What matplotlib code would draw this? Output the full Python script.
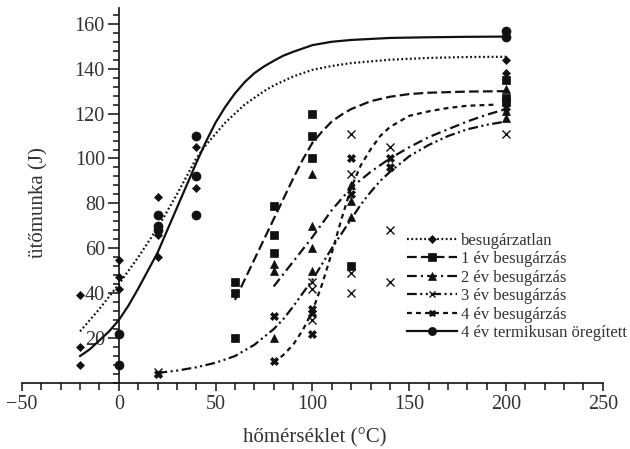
import matplotlib
matplotlib.use('Agg')
import matplotlib.pyplot as plt
from matplotlib.lines import Line2D
from matplotlib.ticker import MultipleLocator

plt.rcParams['font.family'] = ['Liberation Serif', 'DejaVu Serif']
plt.rcParams['lines.scale_dashes'] = False

# measured points (temperature, impact energy)
ctrl_T = [-20, -20, -20, 0, 0, 0, 20, 20, 20, 20, 40, 40, 200, 200]
ctrl_E = [39, 16, 8, 55, 47, 42, 83, 68, 66, 56, 105, 87, 144, 138]

yr1_T = [60, 60, 60, 80, 80, 80, 100, 100, 100, 120, 200, 200, 200]
yr1_E = [45, 40, 20, 79, 66, 58, 120, 110, 100, 52, 135, 127, 125]

yr2_T = [80, 80, 80, 100, 100, 100, 100, 120, 120, 120, 200, 200, 200]
yr2_E = [53, 50, 20, 93, 70, 60, 50, 88, 81, 74, 131, 121, 118]

yr3_T = [20, 100, 100, 100, 120, 120, 120, 120, 140, 140, 140, 200]
yr3_E = [5, 45, 42, 28, 111, 93, 49, 40, 105, 68, 45, 111]

yr4_T = [20, 80, 80, 100, 100, 100, 120, 120, 140, 140, 200, 200]
yr4_E = [4, 30, 10, 33, 31, 22, 100, 84, 100, 96, 126, 123]

aged_T = [0, 0, 20, 20, 20, 40, 40, 40, 200, 200]
aged_E = [22, 8, 75, 70, 68, 110, 92, 75, 157, 154]

# fitted transition curves
ctrl_fit_T = [-20, -15, -10, -5, 0, 5, 10, 15, 20, 25, 30, 35, 40, 45, 50, 55, 60, 65, 70,
              75, 80, 85, 90, 95, 100, 110, 120, 140, 160, 180, 200]
ctrl_fit_E = [23, 28, 33, 38.5, 44, 50, 56, 62.5, 69, 76.5, 84, 92, 100, 106, 111, 116, 120, 124, 127,
              130, 132.5, 134.5, 136.5, 138, 139.5, 141.2, 142.5, 144, 144.8, 145.2, 145.3]

aged_fit_T = [-20, -15, -10, -5, 0, 5, 10, 15, 20, 25, 30, 35, 40, 45, 50, 55, 60, 65, 70,
              75, 80, 85, 90, 95, 100, 110, 120, 140, 160, 180, 200]
aged_fit_E = [12, 15, 19, 23, 28, 34.5, 42, 50, 58, 68, 78, 88, 98, 107.5, 116, 123, 129, 134, 138,
              141, 143.5, 145.8, 147.5, 149, 150.5, 152, 152.8, 153.7, 154, 154.2, 154.3]

yr1_fit_T = [60, 65, 70, 75, 80, 85, 90, 95, 100, 105, 110, 115, 120, 130, 140, 150, 160, 180, 200]
yr1_fit_E = [37, 46, 55, 64, 73, 82, 91, 99.5, 107, 112, 116.5, 119.5, 122, 125.5, 127.5, 128.7,
             129.3, 129.8, 130]

yr2_fit_T = [80, 90, 100, 110, 120, 130, 140, 150, 160, 170, 180, 190, 200]
yr2_fit_E = [43, 54, 65, 77, 87, 94, 100, 105, 109.5, 113, 116.5, 119.5, 122]

yr3_fit_T = [20, 30, 40, 50, 60, 70, 80, 85, 90, 95, 100, 105, 110, 115, 120, 125, 130, 135, 140,
             150, 160, 170, 180, 190, 200]
yr3_fit_E = [4.5, 5.5, 7, 9, 12, 17, 24, 28.5, 34, 40, 46, 53, 60, 66.5, 73, 79.5, 85, 90, 94,
             101, 106, 110, 113, 115, 116.5]

yr4_fit_T = [80, 85, 90, 95, 100, 105, 110, 115, 120, 125, 130, 135, 140, 150, 160, 170, 180, 195]
yr4_fit_E = [9, 12.5, 17, 23.5, 32, 44, 58, 73, 87, 97, 104, 110, 114, 119, 121, 122.5, 123.5, 124]

labels = ['besugárzatlan', '1 év besugárzás', '2 év besugárzás',
          '3 év besugárzás', '4 év besugárzás', '4 év termikusan öregített']

k = '#111111'
txt = '#333333'

series = [
    (ctrl_T, ctrl_E, ctrl_fit_T, ctrl_fit_E, 'D', 4.5, (0, (1.3, 1.8)), 1.6),
    (yr1_T, yr1_E, yr1_fit_T, yr1_fit_E, 's', 6, (0, (7, 3)), 1.6),
    (yr2_T, yr2_E, yr2_fit_T, yr2_fit_E, '^', 6, (0, (7, 3, 1.5, 3)), 1.6),
    (yr3_T, yr3_E, yr3_fit_T, yr3_fit_E, 'x', 5.5, (0, (7, 2.5, 1.5, 2.5, 1.5, 2.5)), 1.6),
    (yr4_T, yr4_E, yr4_fit_T, yr4_fit_E, 'X', 5.5, (0, (3.5, 3)), 1.6),
    (aged_T, aged_E, aged_fit_T, aged_fit_E, 'o', 6.5, '-', 1.6),
]

fig = plt.figure(figsize=(6.3, 4.49), dpi=100)
ax = fig.add_axes([0.0349, 0.147, 0.922, 0.835])

handles = []
for (T, E, fT, fE, mk, ms, ls, lw), lab in zip(series, labels):
    ax.plot(fT, fE, color=k, linestyle=ls, linewidth=lw)
    mew = 1.0 if mk == 'x' else 0.5
    ax.plot(T, E, linestyle='none', marker=mk, markersize=ms, color=k,
            markeredgewidth=mew)
    handles.append(Line2D([], [], color=k, linestyle=ls, linewidth=lw,
                          marker=mk, markersize=ms * 0.9, markeredgewidth=mew))

ax.set_xlim(-50, 250)
ax.set_ylim(0, 167)
ax.spines['left'].set_position(('data', 0))
ax.spines['top'].set_visible(False)
ax.spines['right'].set_visible(False)
for s in ('left', 'bottom'):
    ax.spines[s].set_linewidth(1.2)
    ax.spines[s].set_color(k)

ax.set_xticks(range(-50, 251, 50))
ax.xaxis.set_minor_locator(MultipleLocator(10))
ax.set_yticks(range(20, 161, 20))
ax.yaxis.set_minor_locator(MultipleLocator(4))
ax.tick_params(which='both', direction='out', width=1.1, color=k,
               labelsize=14.5, labelcolor=txt)
ax.tick_params(axis='x', which='major', length=6, pad=3)
ax.tick_params(axis='x', which='minor', length=5)
ax.tick_params(axis='y', which='major', length=8, pad=2)
ax.tick_params(axis='y', which='minor', length=4)

ax.set_xlabel('hőmérséklet (°C)', fontsize=15, color=txt)
ax.set_ylabel('ütőmunka (J)', fontsize=15, color=txt)
ax.xaxis.set_label_coords(0.504, -0.12)
ax.yaxis.set_label_coords(0.045, 0.48)

ax.legend(handles, labels, loc='upper left', bbox_to_anchor=(0.628, 0.508),
          bbox_transform=fig.transFigure, frameon=False, fontsize=12,
          handlelength=3.0, handletextpad=0.2, labelspacing=0.15,
          numpoints=1, labelcolor=txt, borderpad=0.2)

fig.savefig('out.png', dpi=100)
